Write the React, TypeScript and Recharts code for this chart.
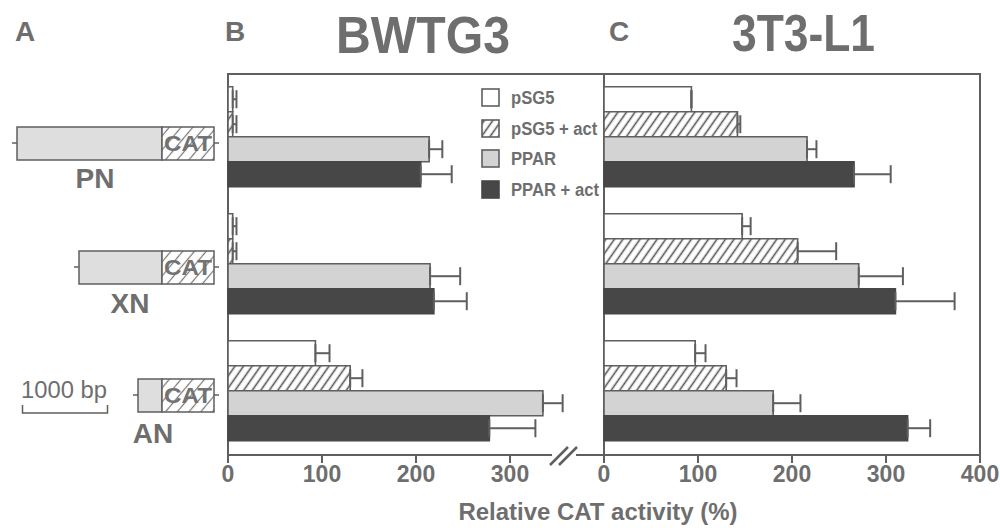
import { BarChart, Bar, XAxis, YAxis, ErrorBar, ReferenceArea } from 'recharts'

const groups = ['PN', 'XN', 'AN']
const seriesNames = ['pSG5', 'pSG5 + act', 'PPAR', 'PPAR + act']

// BWTG3
const bPsg5 = [5, 5, 93]
const bPsg5Err = [4, 4, 15]
const bPsg5Act = [5, 5, 130]
const bPsg5ActErr = [4, 4, 13]
const bPpar = [214, 215, 335]
const bPparErr = [14, 32, 21]
const bPparAct = [205, 219, 278]
const bPparActErr = [33, 35, 49]

// 3T3-L1
const cPsg5 = [93, 147, 97]
const cPsg5Err = [0, 9, 11]
const cPsg5Act = [142, 206, 130]
const cPsg5ActErr = [3, 41, 11]
const cPpar = [216, 271, 180]
const cPparErr = [10, 47, 29]
const cPparAct = [266, 310, 323]
const cPparActErr = [39, 63, 24]

const bTicks = [0, 100, 200, 300]
const cTicks = [0, 100, 200, 300, 400]

const build = (a: number[], ae: number[], b: number[], be: number[], c: number[], ce: number[], d: number[], de: number[]) =>
  groups.map((name, i) => ({
    name,
    s1: a[i], s1e: [0, ae[i]],
    s2: b[i], s2e: [0, be[i]],
    s3: c[i], s3e: [0, ce[i]],
    s4: d[i], s4e: [0, de[i]],
  }))

const dataB = build(bPsg5, bPsg5Err, bPsg5Act, bPsg5ActErr, bPpar, bPparErr, bPparAct, bPparActErr)
const dataC = build(cPsg5, cPsg5Err, cPsg5Act, cPsg5ActErr, cPpar, cPparErr, cPparAct, cPparActErr)

const FONT = '"Liberation Sans", Arial, sans-serif'
const TXT = '#6e6e6e'
const LINE = '#5f5f5f'
const fills = ['#ffffff', 'url(#hatch)', '#d3d3d3', '#474747']

const LegendBox = () => (
  <div style={{ position: 'absolute', left: 481, top: 83, fontFamily: FONT, fontWeight: 'bold', fontSize: 17.5, color: TXT, lineHeight: '20px' }}>
    {seriesNames.map((n, i) => (
      <div key={n} style={{ display: 'flex', alignItems: 'center', height: 30.5 }}>
        <svg width={20} height={20} style={{ marginRight: 10 }}>
          <rect x={1} y={1} width={17} height={17} fill={fills[i]} stroke={i === 3 ? '#474747' : LINE} strokeWidth={1.6} />
        </svg>
        <span style={{ display: 'inline-block', transform: 'scaleX(0.95)', transformOrigin: 'left' }}>{n}</span>
      </div>
    ))}
  </div>
)

function Panel({ data, ticks, left }: { data: any[]; ticks: number[]; left: number }) {
  const w = 376
  return (
    <div style={{ position: 'absolute', left: 0, top: 0 }}>
      <BarChart
        width={1000}
        height={528}
        data={data}
        layout="vertical"
        margin={{ top: 74, bottom: 43, left, right: 1000 - left - w }}
        barCategoryGap="10%"
        barGap={0}
      >
        <XAxis
          type="number"
          domain={[0, 400]}
          ticks={ticks}
          height={30}
          axisLine={false}
          tickSize={8}
          tickMargin={3}
          tickLine={{ stroke: LINE, strokeWidth: 2 }}
          tick={{ fill: TXT, fontSize: 23, fontWeight: 'bold', fontFamily: FONT }}
        />
        <YAxis type="category" dataKey="name" hide />
        <ReferenceArea x1={0} x2={400} fill="none" stroke={LINE} strokeWidth={2} ifOverflow="visible" />
        {['s1', 's2', 's3', 's4'].map((k, i) => (
          <Bar
            key={k}
            dataKey={k}
            name={seriesNames[i]}
            fill={fills[i]}
            stroke={i === 3 ? '#474747' : LINE}
            strokeWidth={1.6}
            isAnimationActive={false}
          >
            <ErrorBar dataKey={k + 'e'} direction="x" width={9} stroke={LINE} strokeWidth={2} />
          </Bar>
        ))}
      </BarChart>
    </div>
  )
}

function Construct({ x, y, label, lx, ly }: { x: number; y: number; label: string; lx: number; ly: number }) {
  const right = 214
  const cat = 162
  return (
    <g>
      <line x1={x - 5} y1={y} x2={right + 5} y2={y} stroke={LINE} strokeWidth={1.5} />
      <rect x={x} y={y - 16} width={cat - x} height={33} fill="#dedede" stroke={LINE} strokeWidth={1.5} />
      <rect x={cat} y={y - 16} width={right - cat} height={33} fill="url(#hatchA)" stroke={LINE} strokeWidth={1.5} />
      <text x={(cat + right) / 2} y={y + 8} textAnchor="middle" fontSize={22} fontWeight="bold" fill="#727272" textLength={48} lengthAdjust="spacingAndGlyphs">CAT</text>
      <text x={lx} y={ly + 10} textAnchor="middle" fontSize={28} fontWeight="bold" fill={TXT}>{label}</text>
    </g>
  )
}

export default function App() {
  return (
    <div style={{ position: 'absolute', left: 0, top: 0, width: 1000, height: 528, background: '#fff', fontFamily: FONT }}>
      <svg width={0} height={0} style={{ position: 'absolute' }}>
        <defs>
          <pattern id="hatch" patternUnits="userSpaceOnUse" width={7} height={7} patternTransform="rotate(35)">
            <rect width={7} height={7} fill="#fff" />
            <line x1={3.5} y1={0} x2={3.5} y2={7} stroke="#555" strokeWidth={1.6} />
          </pattern>
          <pattern id="hatchA" patternUnits="userSpaceOnUse" width={9} height={9} patternTransform="rotate(40)">
            <rect width={9} height={9} fill="#fff" />
            <line x1={4.5} y1={0} x2={4.5} y2={9} stroke="#777" strokeWidth={1.2} />
          </pattern>
        </defs>
      </svg>
      <Panel data={dataB} ticks={bTicks} left={228} />
      <Panel data={dataC} ticks={cTicks} left={604} />
      <LegendBox />
      <svg width={1000} height={528} style={{ position: 'absolute', left: 0, top: 0, pointerEvents: 'none' }} fontFamily={FONT}>
        <text x={15} y={41} fontSize={28} fontWeight="bold" fill={TXT}>A</text>
        <text x={225} y={41} fontSize={28} fontWeight="bold" fill={TXT}>B</text>
        <text x={609} y={41} fontSize={28} fontWeight="bold" fill={TXT}>C</text>
        <text x={336} y={53} fontSize={52} fontWeight="bold" fill={TXT} textLength={174} lengthAdjust="spacingAndGlyphs">BWTG3</text>
        <text x={732} y={51} fontSize={52} fontWeight="bold" fill={TXT} textLength={143} lengthAdjust="spacingAndGlyphs">3T3-L1</text>
        <line x1={552} y1={455} x2={576} y2={455} stroke="#fff" strokeWidth={4} />
        <line x1={550} y1={465} x2={568} y2={447} stroke={LINE} strokeWidth={2.5} />
        <line x1={559} y1={465} x2={577} y2={447} stroke={LINE} strokeWidth={2.5} />
        <text x={598} y={520} textAnchor="middle" fontSize={24} fontWeight="bold" fill={TXT} textLength={279} lengthAdjust="spacingAndGlyphs">Relative CAT activity (%)</text>
        <Construct x={17} y={143} label="PN" lx={95} ly={178} />
        <Construct x={79} y={267} label="XN" lx={130} ly={303} />
        <Construct x={138} y={395} label="AN" lx={153} ly={433} />
        <text x={21} y={398} fontSize={23} fill={TXT} textLength={86} lengthAdjust="spacingAndGlyphs">1000 bp</text>
        <path d="M22.5 405 V413 H107.5 V405" fill="none" stroke={LINE} strokeWidth={1.5} />
      </svg>
    </div>
  )
}
